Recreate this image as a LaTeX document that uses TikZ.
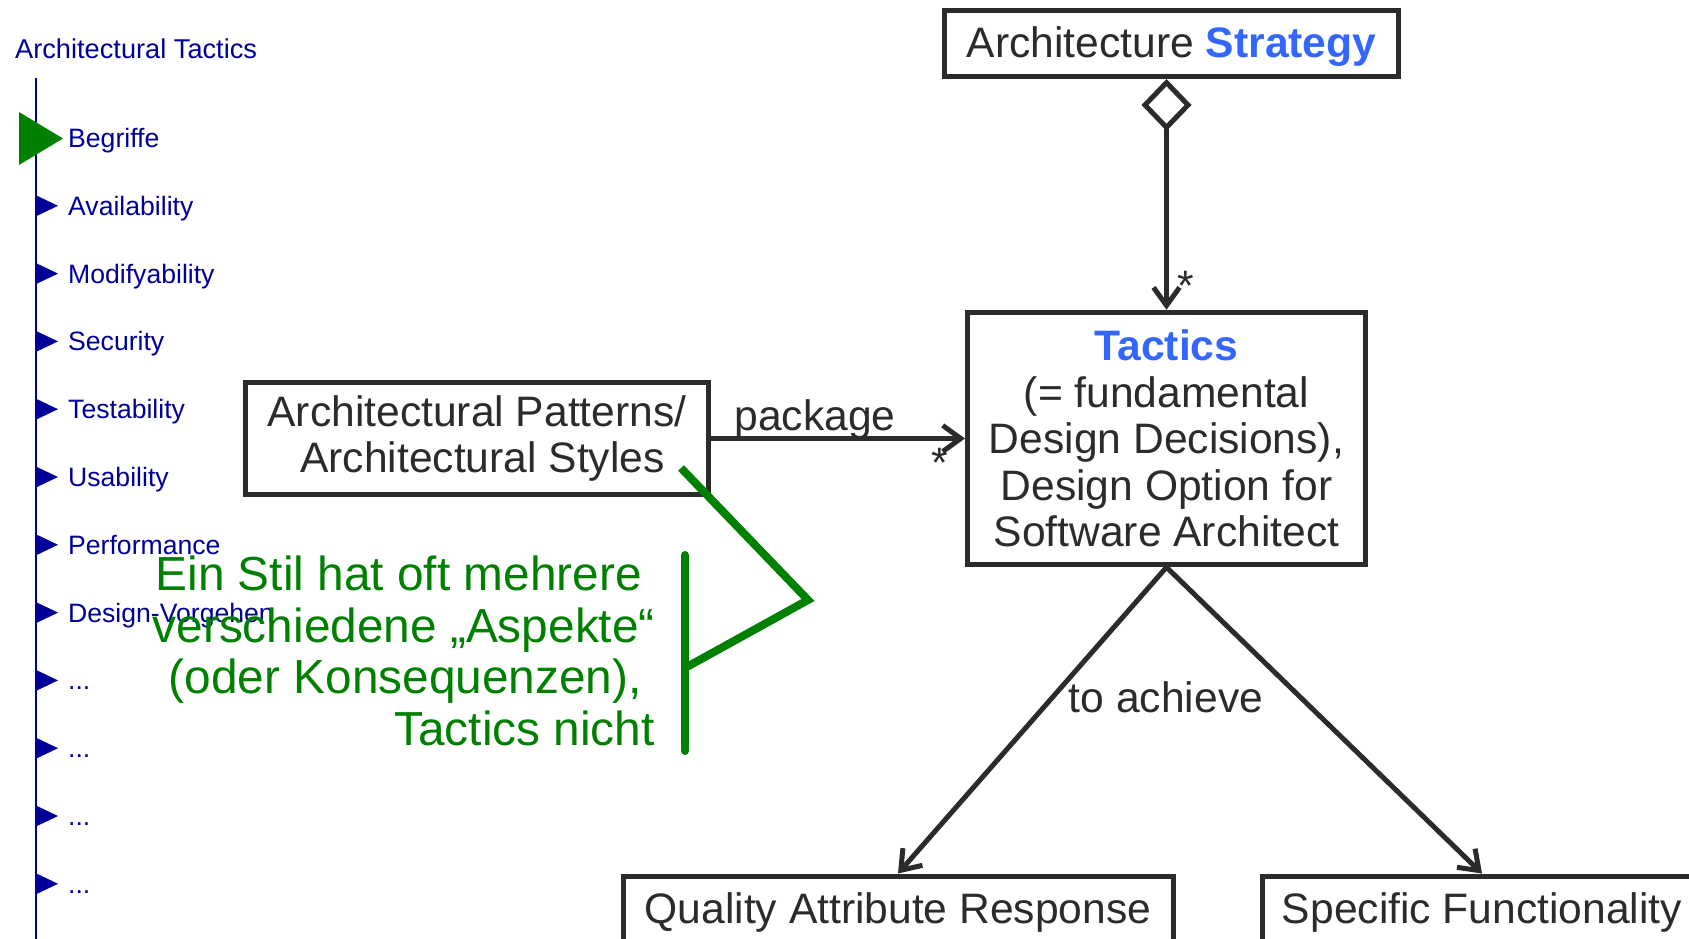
\documentclass[tikz,border=0pt]{standalone}
\usepackage{fontspec}
\setmainfont{Liberation Sans}
\usetikzlibrary{arrows.meta}
\definecolor{ink}{HTML}{2B2B2B}
\definecolor{hiblue}{HTML}{3366FF}
\definecolor{navy}{HTML}{000099}
\definecolor{notegreen}{HTML}{008000}
\begin{document}
\begin{tikzpicture}[x=1pt,y=-1pt,
  box/.style={draw=ink, line width=5pt, fill=white, text=ink,
    font=\fontsize{42.6}{46.5}\selectfont, align=center, inner sep=0pt},
  conn/.style={draw=ink, line width=5pt},
  lbl/.style={text=ink, font=\fontsize{42.6}{46.5}\selectfont, inner sep=0pt, anchor=base},
  barbend/.style={-{Straight Barb[length=18pt,width=26pt]}},
  sideitem/.style={text=navy, font=\fontsize{26.6}{30}\selectfont, inner sep=0pt, anchor=base west},
  sidetri/.style={fill=navy}
]
\useasboundingbox (0,0) rectangle (1689,939);

% ---- sidebar ----
\coordinate (railtop) at (36,78);
\coordinate (railbot) at (36,939);
\draw[navy, line width=2.5pt] (railtop) -- (railbot);
\node[sideitem, font=\fontsize{27.2}{30}\selectfont] (title) at (15,59) {Architectural Tactics};
\foreach \c in {205.8,273.6,341.4,409.2,477,544.8,612.6,680.4,748.2,816,883.8}
  \fill[sidetri] (36,\c-10.5) -- (58,\c) -- (36,\c+10.5) -- cycle;
\fill[notegreen] (19,112) -- (63,138.5) -- (19,165) -- cycle;
\node[sideitem] (i1) at (68,147.5) {Begriffe};
\node[sideitem] (i2) at (68,215.3) {Availability};
\node[sideitem] (i3) at (68,283.1) {Modifyability};
\node[sideitem] (i4) at (68,350.9) {Security};
\node[sideitem] (i5) at (68,418.7) {Testability};
\node[sideitem] (i6) at (68,486.5) {Usability};
\node[sideitem] (i7) at (68,554.3) {Performance};
\node[sideitem] (i8) at (68,622.1) {Design-Vorgehen};
\node[sideitem] (i9) at (68,689.9) {...};
\node[sideitem] (i10) at (68,757.7) {...};
\node[sideitem] (i11) at (68,825.5) {...};
\node[sideitem] (i12) at (68,893.3) {...};

% ---- boxes ----
\node[box, minimum width=454pt, minimum height=66pt, text height=31pt, text depth=3pt]
  (strat) at (1171.5,43.5) {Architecture {\bfseries\color{hiblue}Strategy}};
\node[box, minimum width=398pt, minimum height=252.5pt]
  (tac) at (1166.5,438.5) {{\bfseries\color{hiblue}Tactics}\\(= fundamental\\Design Decisions),\\Design Option for\\Software Architect};
\node[box, minimum width=463pt, minimum height=112pt]
  (pat) at (477,438.5) {Architectural Patterns/\\\hspace*{11pt}Architectural Styles};
\node[box, anchor=north, minimum width=550pt, text height=31pt, text depth=60pt, inner ysep=16pt]
  (qar) at (898,873.5) {Quality Attribute Response};
\node[box, anchor=north, minimum width=440pt, text height=31pt, text depth=60pt, inner ysep=16pt]
  (sf) at (1482,873.5) {Specific Functionality};

% ---- connectors ----
\draw[conn, {Diamond[open,length=52pt,width=50pt]}-{Straight Barb[length=18pt,width=26pt]}]
  (tac.north |- strat.south) -- (tac.north);
\draw[conn, barbend] (pat.east) -- (tac.west);
\draw[conn, barbend] (tac.south) -- (qar.north);
\draw[conn, barbend] (tac.south) -- (sf.north);

% ---- labels ----
\node[lbl] (pkg) at (815,430) {package};
\node[lbl] (achieve) at (1166,712) {to achieve};
\node[lbl] (mult1) at (1186,300.5) {*};
\node[lbl] (mult2) at (940,477) {*};

% ---- green note ----
\node[text=notegreen, font=\fontsize{47.8}{51.5}\selectfont, align=right, inner sep=0pt, anchor=south east]
  (note) at (655,746) {Ein Stil hat oft mehrere\makebox[13pt]{}\\verschiedene „Aspekte“\\(oder Konsequenzen),\makebox[13pt]{}\\Tactics nicht};
\coordinate (gs) at (681,468);
\coordinate (gapex) at (808,600);
\coordinate (gjoin) at (685,668);
\coordinate (gtop) at (685,555);
\coordinate (gbot) at (685,751);
\draw[notegreen, line width=8pt] (gs) -- (gapex) -- (gjoin);
\draw[notegreen, line width=8pt, line cap=round] (gtop) -- (gbot);
\end{tikzpicture}
\end{document}
